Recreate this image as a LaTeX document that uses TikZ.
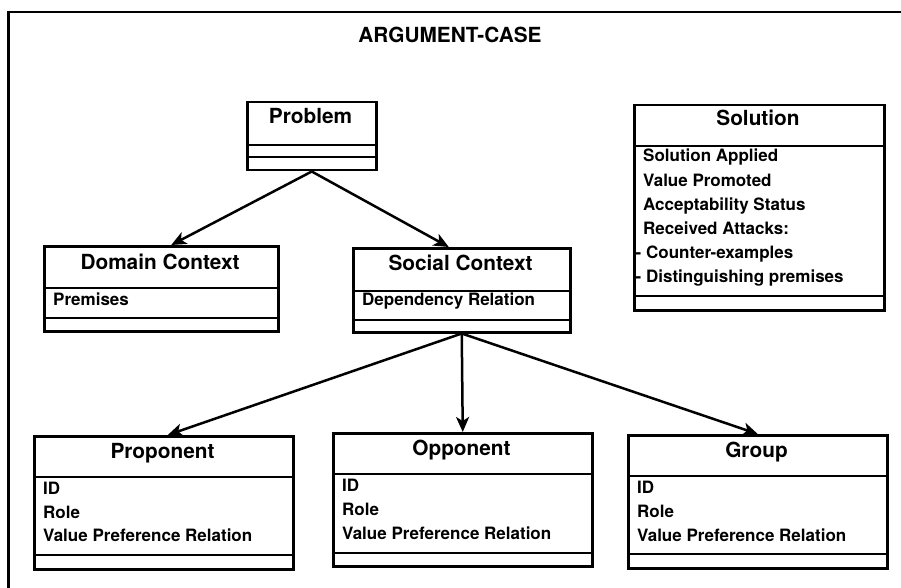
\documentclass[tikz,border=0pt]{standalone}
\usepackage{fontspec}
\setmainfont{TeX Gyre Heros}
\usetikzlibrary{arrows.meta}
\begin{document}
\begin{tikzpicture}[x=1pt,y=-1pt,
  box/.style={draw, line width=2.5pt, inner sep=0pt, anchor=north west},
  sep/.style={line width=2.5pt},
  hd/.style={font=\bfseries\fontsize{20.8}{21}\selectfont, anchor=base, inner sep=0pt},
  it/.style={font=\bfseries\fontsize{17}{17}\selectfont, anchor=base west, inner sep=0pt},
  arr/.style={line width=2.5pt, -{Stealth[length=15pt,width=13pt,inset=4pt]}}]
\useasboundingbox (0,0) rectangle (901,588);
% outer frame
\draw[line width=2.5pt] (8.5,588) -- (8.5,12) -- (901,12);
\node[hd] (main) at (450,43) {ARGUMENT-CASE};

% Problem
\node[box, minimum width=129pt, minimum height=68pt] (prob) at (246,101) {};
\draw[sep] (246,145) -- (375,145);
\draw[sep] (246,157) -- (375,157);
\node[hd] (probT) at (310.5,124) {Problem};

% Solution
\node[box, minimum width=250pt, minimum height=205pt] (sol) at (633,104) {};
\draw[sep] (633,146) -- (883,146);
\draw[sep] (633,296) -- (883,296);
\node[hd] (solT) at (758,125.5) {Solution};
\node[it] (sol1) at (643,161.7) {Solution Applied};
\node[it] (sol2) at (643,186) {Value Promoted};
\node[it] (sol3) at (643,210) {Acceptability Status};
\node[it] (sol4) at (643,234) {Received Attacks:};
\node[it] (sol5) at (635.5,258.3) {- Counter-examples};
\node[it] (sol6) at (635.5,282.7) {- Distinguishing premises};

% Domain Context
\node[box, minimum width=234pt, minimum height=85pt] (dom) at (43,245) {};
\draw[sep] (43,288) -- (277,288);
\draw[sep] (43,318) -- (277,318);
\node[hd] (domT) at (160,269) {Domain Context};
\node[it] (dom1) at (53,305) {Premises};

% Social Context
\node[box, minimum width=217pt, minimum height=84pt] (soc) at (352,247) {};
\draw[sep] (352,291) -- (569,291);
\draw[sep] (352,320) -- (569,320);
\node[hd] (socT) at (460.5,270.5) {Social Context};
\node[it] (soc1) at (362,305.5) {Dependency Relation};

% Proponent
\node[box, minimum width=259pt, minimum height=133pt] (prop) at (33,435) {};
\draw[sep] (33,477) -- (292,477);
\draw[sep] (33,555) -- (292,555);
\node[hd] (propT) at (162.5,458.3) {Proponent};
\node[it] (prop1) at (43,494) {ID};
\node[it] (prop2) at (43,518) {Role};
\node[it] (prop3) at (43,541.7) {Value Preference Relation};

% Opponent
\node[box, minimum width=259pt, minimum height=133pt] (opp) at (332,432) {};
\draw[sep] (332,474) -- (591,474);
\draw[sep] (332,553) -- (591,553);
\node[hd] (oppT) at (461.5,455) {Opponent};
\node[it] (opp1) at (342,491) {ID};
\node[it] (opp2) at (342,515) {Role};
\node[it] (opp3) at (342,539) {Value Preference Relation};

% Group
\node[box, minimum width=259pt, minimum height=133pt] (grp) at (627,434) {};
\draw[sep] (627,476) -- (886,476);
\draw[sep] (627,554) -- (886,554);
\node[hd] (grpT) at (756.5,457.3) {Group};
\node[it] (grp1) at (637,493.3) {ID};
\node[it] (grp2) at (637,517.3) {Role};
\node[it] (grp3) at (637,541) {Value Preference Relation};

% connectors
\draw[arr] (prob.south) -- ([xshift=10pt]dom.north);
\draw[arr] (prob.south) -- ([xshift=-13pt]soc.north);
\draw[arr] (soc.south) -- ([xshift=4pt]prop.north);
\draw[arr] (soc.south) -- (opp.north);
\draw[arr] (soc.south) -- (grp.north);
\end{tikzpicture}
\end{document}
